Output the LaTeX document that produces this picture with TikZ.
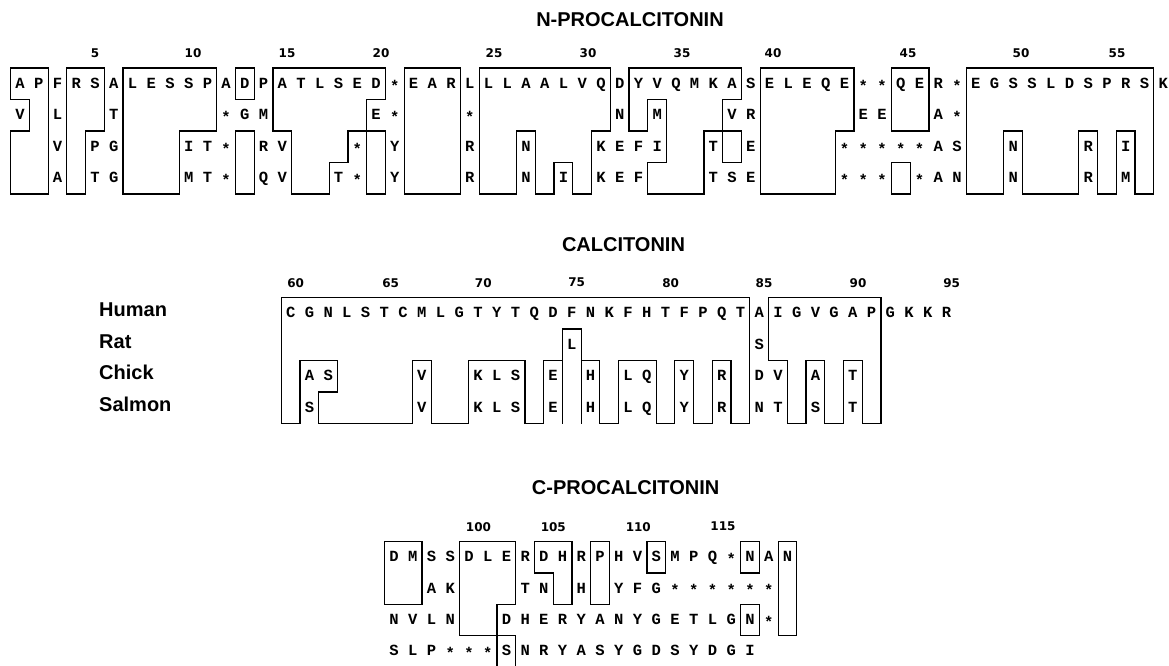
\documentclass[tikz,border=0pt]{standalone}
\usepackage{fontspec}
\setmainfont{Liberation Serif}
\newfontfamily\resfont{Liberation Mono}
\newfontfamily\labfont{Liberation Sans}
\newfontfamily\numfont{DejaVu Sans}
% gap mark in the alignment
\newcommand\gapmk{\raisebox{-2.8pt}{*}}
\tikzset{
  res/.style={font=\resfont\bfseries\fontsize{15.5}{16}\selectfont, inner sep=0pt, anchor=base, yshift=-4.5pt},
  num/.style={font=\numfont\bfseries\fontsize{12}{12}\selectfont, inner sep=0pt},
  ttl/.style={font=\labfont\bfseries\fontsize{20}{20}\selectfont, inner sep=0pt},
  spc/.style={font=\labfont\bfseries\fontsize{20}{20}\selectfont, inner sep=0pt, anchor=west},
  box/.style={draw=black, line width=1.2pt}
}
\begin{document}
\begin{tikzpicture}[x=1pt,y=1pt]
\useasboundingbox (0,0) rectangle (1169,-666);

% section titles
\node[ttl] (tN) at (630,-20) {N-PROCALCITONIN};
\node[ttl] (tC) at (623.5,-245) {CALCITONIN};
\node[ttl] (tP) at (625.6,-488) {C-PROCALCITONIN};

% residue numbers
\foreach \n/\x in {5/95,10/193,15/287,20/381,25/494,30/588,35/682,40/773,45/908,50/1021,55/1117}
  \node[num] (nN\n) at (\x,-53.3) {\n};
\foreach \n/\x in {60/295.7,65/390.7,70/483.3,75/576.7,80/670.7,85/764,90/858,95/951.6}
  \node[num] (nC\n) at (\x,-282.7) {\n};
\foreach \n/\x in {100/478.5,105/553.3,110/638.3,115/723}
  \node[num] (nP\n) at (\x,-526.7) {\n};

% species
\node[spc] (sHuman)  at (99,-309.5) {Human};
\node[spc] (sRat)    at (99,-341.5) {Rat};
\node[spc] (sChick)  at (99,-372.5) {Chick};
\node[spc] (sSalmon) at (99,-404)   {Salmon};

% ---------------- N-procalcitonin ----------------
\begin{scope}[shift={(10.63pt,-68pt)}, x=18.74pt, y=-31.5pt]
\foreach \ch [count=\c from 0] in {A,P,F,R,S,A,L,E,S,S,P,A,D,P,A,T,L,S,E,D,\gapmk,E,A,R,L,L,L,A,A,L,V,Q,D,Y,V,Q,M,K,A,S,E,L,E,Q,E,\gapmk,\gapmk,Q,E,R,\gapmk,E,G,S,S,L,D,S,P,R,S,K}
  \node[res] (N1-\c) at (\c+0.5,0.5) {\ch};
\foreach \c/\ch in {0/V,2/L,5/T,11/\gapmk,12/G,13/M,19/E,20/\gapmk,24/\gapmk,32/N,34/M,38/V,39/R,45/E,46/E,49/A,50/\gapmk}
  \node[res] (N2-\c) at (\c+0.5,1.5) {\ch};
\foreach \c/\ch in {2/V,4/P,5/G,9/I,10/T,11/\gapmk,13/R,14/V,18/\gapmk,20/Y,24/R,27/N,31/K,32/E,33/F,34/I,37/T,39/E,44/\gapmk,45/\gapmk,46/\gapmk,47/\gapmk,48/\gapmk,49/A,50/S,53/N,57/R,59/I}
  \node[res] (N3-\c) at (\c+0.5,2.5) {\ch};
\foreach \c/\ch in {2/A,4/T,5/G,9/M,10/T,11/\gapmk,13/Q,14/V,17/T,18/\gapmk,20/Y,24/R,27/N,29/I,31/K,32/E,33/F,37/T,38/S,39/E,44/\gapmk,45/\gapmk,46/\gapmk,48/\gapmk,49/A,50/N,53/N,57/R,59/M}
  \node[res] (N4-\c) at (\c+0.5,3.5) {\ch};

\draw[box] (0,0) -- (2,0) -- (2,4) -- (0,4) -- (0,2) -- (1,2) -- (1,1) -- (0,1) -- cycle;
\draw[box] (3,0) -- (5,0) -- (5,2) -- (4,2) -- (4,4) -- (3,4) -- cycle;
\draw[box] (6,0) -- (11,0) -- (11,2) -- (9,2) -- (9,4) -- (6,4) -- cycle;
\draw[box] (12,0) rectangle (13,1);
\draw[box] (12,2) rectangle (13,4);
\draw[box] (14,0) -- (20,0) -- (20,1) -- (19,1) -- (19,2) -- (18,2) -- (18,3) -- (17,3) -- (17,4) -- (15,4) -- (15,2) -- (14,2) -- cycle;
\draw[box] (19,2) rectangle (20,4);
\draw[box] (21,0) rectangle (24,4);
\draw[box] (25,0) -- (32,0) -- (32,2) -- (31,2) -- (31,4) -- (30,4) -- (30,3) -- (29,3) -- (29,4) -- (28,4) -- (28,2) -- (27,2) -- (27,4) -- (25,4) -- cycle;
\draw[box] (33,0) -- (39,0) -- (39,1) -- (38,1) -- (38,2) -- (37,2) -- (37,4) -- (34,4) -- (34,3) -- (35,3) -- (35,1) -- (34,1) -- (34,2) -- (33,2) -- cycle;
\draw[box] (38,2) rectangle (39,3);
\draw[box] (40,0) -- (45,0) -- (45,2) -- (44,2) -- (44,4) -- (40,4) -- cycle;
\draw[box] (47,0) rectangle (49,2);
\draw[box] (47,3) rectangle (48,4);
\draw[box] (51,0) -- (61,0) -- (61,4) -- (60,4) -- (60,2) -- (59,2) -- (59,4) -- (58,4) -- (58,2) -- (57,2) -- (57,4) -- (54,4) -- (54,2) -- (53,2) -- (53,4) -- (51,4) -- cycle;
\end{scope}

% ---------------- Calcitonin ----------------
\begin{scope}[shift={(281.3pt,-297.5pt)}, x=18.74pt, y=-31.5pt]
\foreach \ch [count=\c from 0] in {C,G,N,L,S,T,C,M,L,G,T,Y,T,Q,D,F,N,K,F,H,T,F,P,Q,T,A,I,G,V,G,A,P,G,K,K,R}
  \node[res] (C1-\c) at (\c+0.5,0.5) {\ch};
\foreach \c/\ch in {15/L,25/S}
  \node[res] (C2-\c) at (\c+0.5,1.5) {\ch};
\foreach \c/\ch in {1/A,2/S,7/V,10/K,11/L,12/S,14/E,16/H,18/L,19/Q,21/Y,23/R,25/D,26/V,28/A,30/T}
  \node[res] (C3-\c) at (\c+0.5,2.5) {\ch};
\foreach \c/\ch in {1/S,7/V,10/K,11/L,12/S,14/E,16/H,18/L,19/Q,21/Y,23/R,25/N,26/T,28/S,30/T}
  \node[res] (C4-\c) at (\c+0.5,3.5) {\ch};

\draw[box] (0,0) -- (25,0) -- (25,4) -- (24,4) -- (24,2) -- (23,2) -- (23,4) -- (22,4) -- (22,2) -- (21,2) -- (21,4) -- (20,4) -- (20,2) -- (18,2) -- (18,4) -- (17,4) -- (17,2) -- (16,2) -- (16,1) -- (15,1) -- (15,2) -- (14,2) -- (14,4) -- (13,4) -- (13,2) -- (10,2) -- (10,4) -- (8,4) -- (8,2) -- (7,2) -- (7,4) -- (2,4) -- (2,3) -- (3,3) -- (3,2) -- (1,2) -- (1,4) -- (0,4) -- cycle;
\draw[box] (15,2) -- (15,4) (16,2) -- (16,4);
\draw[box] (26,0) -- (32,0) -- (32,4) -- (31,4) -- (31,2) -- (30,2) -- (30,4) -- (29,4) -- (29,2) -- (28,2) -- (28,4) -- (27,4) -- (27,2) -- (26,2) -- cycle;
\end{scope}

% ---------------- C-procalcitonin ----------------
\begin{scope}[shift={(384.6pt,-541.7pt)}, x=18.74pt, y=-31.3pt]
\foreach \ch [count=\c from 0] in {D,M,S,S,D,L,E,R,D,H,R,P,H,V,S,M,P,Q,\gapmk,N,A,N}
  \node[res] (P1-\c) at (\c+0.5,0.5) {\ch};
\foreach \c/\ch in {2/A,3/K,7/T,8/N,10/H,12/Y,13/F,14/G,15/\gapmk,16/\gapmk,17/\gapmk,18/\gapmk,19/\gapmk,20/\gapmk}
  \node[res] (P2-\c) at (\c+0.5,1.5) {\ch};
\foreach \c/\ch in {0/N,1/V,2/L,3/N,6/D,7/H,8/E,9/R,10/Y,11/A,12/N,13/Y,14/G,15/E,16/T,17/L,18/G,19/N,20/\gapmk}
  \node[res] (P3-\c) at (\c+0.5,2.5) {\ch};
\foreach \c/\ch in {0/S,1/L,2/P,3/\gapmk,4/\gapmk,5/\gapmk,6/S,7/N,8/R,9/Y,10/A,11/S,12/Y,13/G,14/D,15/S,16/Y,17/D,18/G,19/I}
  \node[res] (P4-\c) at (\c+0.5,3.5) {\ch};

\draw[box] (0,0) rectangle (2,2);
\draw[box] (4,0) -- (7,0) -- (7,2) -- (6,2) -- (6,3) -- (4,3) -- cycle;
\draw[box] (6,3) rectangle (7,4);
\draw[box] (8,0) -- (10,0) -- (10,2) -- (9,2) -- (9,1) -- (8,1) -- cycle;
\draw[box] (11,0) rectangle (12,2);
\draw[box] (14,0) rectangle (15,1);
\draw[box] (19,0) rectangle (20,1);
\draw[box] (19,2) rectangle (20,3);
\draw[box] (21,0) rectangle (22,3);
\end{scope}
\end{tikzpicture}
\end{document}
